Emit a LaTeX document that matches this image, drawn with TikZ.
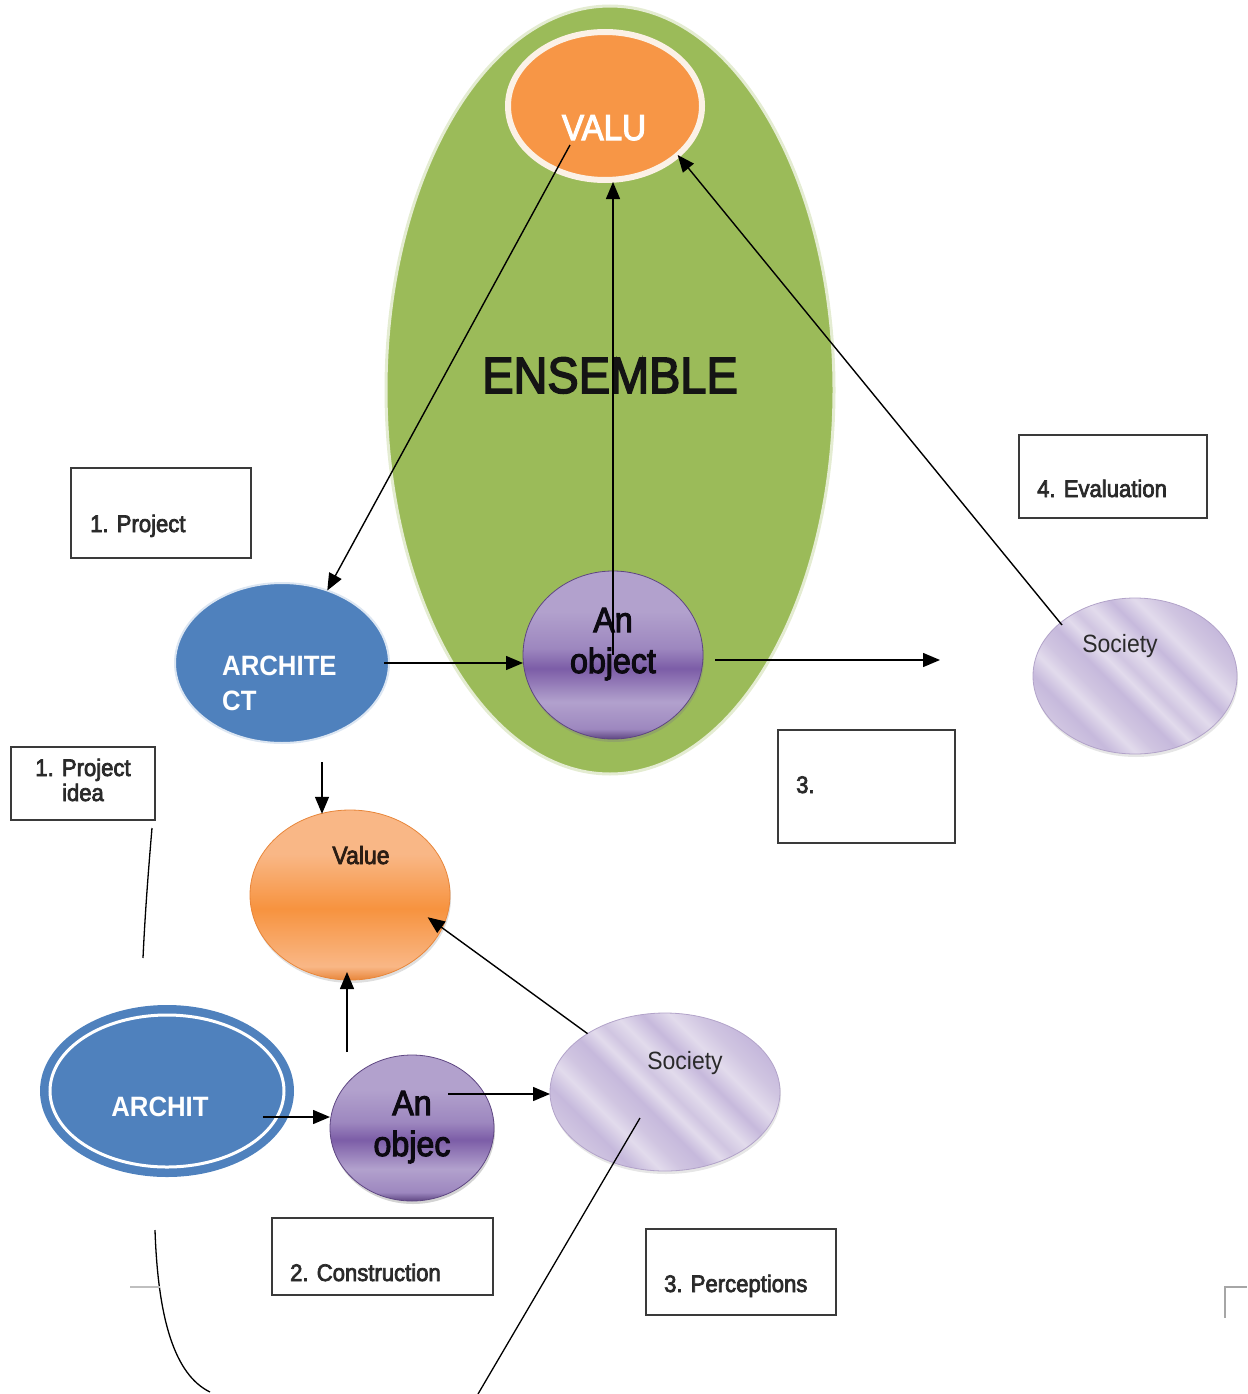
\documentclass[tikz,border=0pt]{standalone}
\usepackage{fontspec}
\setmainfont{Liberation Sans}[FakeStretch=0.92]
\newfontfamily\mediumfont{Liberation Sans}[FakeStretch=0.92, FakeBold=3]
\usetikzlibrary{arrows.meta,shapes.geometric,shadows,calc}

\definecolor{ensgreen}{HTML}{9BBB59}
\definecolor{ensedge}{HTML}{E4ECD2}
\definecolor{valorange}{HTML}{F79646}
\definecolor{valedge}{HTML}{FBF1E6}
\definecolor{archblue}{HTML}{4F81BD}
\definecolor{archedge}{HTML}{DCE6F2}
\definecolor{objlight}{HTML}{B2A1CD}
\definecolor{objmid}{HTML}{9D87BF}
\definecolor{objdark}{HTML}{7C5DA7}
\definecolor{objedge}{HTML}{5E4682}
\definecolor{soclight}{HTML}{E2DBEC}
\definecolor{socmid}{HTML}{D0C5E1}
\definecolor{socdark}{HTML}{C6B9DC}
\definecolor{socedge}{HTML}{B2A3C9}
\definecolor{orlight}{HTML}{F9B786}
\definecolor{ormid}{HTML}{F7933F}
\definecolor{oredge}{HTML}{E8863A}
\definecolor{boxline}{HTML}{3A3A3A}
\definecolor{inktext}{HTML}{2A2A2A}
\definecolor{valtext}{HTML}{2B1D14}

% banded purple fill of the object discs
\pgfdeclareverticalshading{objshade}{100bp}{color(0bp)=(objedge); color(25bp)=(objedge); color(28bp)=(objmid); color(36bp)=(objlight); color(46bp)=(objdark); color(52bp)=(objmid); color(63bp)=(objlight); color(75bp)=(objlight); color(100bp)=(objlight)}
% orange fill of the value disc
\pgfdeclareverticalshading{orshade}{100bp}{color(0bp)=(oredge); color(25bp)=(oredge); color(29bp)=(orlight); color(46bp)=(ormid); color(62bp)=(orlight); color(75bp)=(orlight); color(100bp)=(orlight)}
% soft diagonal lavender streaks of the society discs
\pgfdeclarehorizontalshading{socshade}{100bp}{color(0bp)=(socmid); color(25bp)=(socmid); color(30bp)=(socdark); color(35bp)=(soclight); color(39bp)=(socmid); color(44bp)=(socdark); color(48bp)=(soclight); color(51bp)=(socmid); color(55bp)=(soclight); color(60bp)=(socdark); color(65bp)=(soclight); color(70bp)=(socmid); color(75bp)=(socdark); color(100bp)=(socdark)}

\newcommand{\pxfont}[1]{\fontsize{#1}{#1}\selectfont}

\tikzset{
  ell/.style={ellipse, inner sep=0pt, outer sep=0pt},
  objdisc/.style={ell, shade, shading=objshade, draw=objedge, line width=0.8pt,
    drop shadow={shadow xshift=1pt, shadow yshift=-3pt, opacity=0.35}},
  socdisc/.style={ell, shade, shading=socshade, shading angle=45, draw=socedge, line width=0.8pt,
    drop shadow={shadow xshift=1pt, shadow yshift=-3pt, opacity=0.2}},
  arr/.style={-{Triangle[length=17pt,width=14pt]}, line width=1.4pt, black},
  plainline/.style={line width=1.3pt, black},
  stepbox/.style={rectangle, draw=boxline, line width=1.6pt, inner sep=0pt, outer sep=0pt},
  boxtxt/.style={font=\mediumfont\pxfont{24}, text=inktext, inner sep=0pt, anchor=base west},
  whitetxt/.style={font=\bfseries\pxfont{28}, text=white, inner sep=0pt},
  objtxt/.style={font=\mediumfont\pxfont{35}, text=black!90!objdark, inner sep=0pt, anchor=base},
  soctxt/.style={font=\pxfont{25}, text=inktext, inner sep=0pt, anchor=base},
}

\begin{document}
\begin{tikzpicture}[x=1pt, y=-1pt]
\useasboundingbox (0,0) rectangle (1247,1394);

% the ensemble
\node[ell, fill=ensgreen, draw=ensedge, line width=3pt, minimum width=448pt, minimum height=768pt] (ens) at (610,390) {};
\node[ell, fill=valorange, draw=valedge, line width=6pt, minimum width=194pt, minimum height=148pt] (valu) at (605,106) {};
\node[font=\mediumfont\pxfont{36}, text=white, inner sep=0pt, anchor=base] (valutxt) at (604,140) {VALU};
\node[font=\mediumfont\pxfont{51}, text=black!92, inner sep=0pt, anchor=base] (enstxt) at (610,393) {ENSEMBLE};

% upper chain
\node[ell, fill=archblue, draw=archedge, line width=2pt, minimum width=214pt, minimum height=160pt] (archt) at (282,663) {};
\node[whitetxt, anchor=base west] (archtxt1) at (222,675) {ARCHITE};
\node[whitetxt, anchor=base west] (archtxt2) at (222,710) {CT};
\node[objdisc, minimum width=180pt, minimum height=168pt] (obj) at (613,655) {};
\node[objtxt] (objtxt1) at (613,632) {An};
\node[objtxt] (objtxt2) at (613,673) {object};
\node[socdisc, minimum width=204pt, minimum height=156pt] (soc) at (1135,676) {};
\node[soctxt] (soctxt) at (1120,652) {Society};

% lower chain
\node[ell, shade, shading=orshade, draw=oredge, line width=0.8pt, minimum width=200pt, minimum height=170pt,
  drop shadow={shadow xshift=1pt, shadow yshift=-3pt, opacity=0.25}] (value) at (350,895) {};
\node[font=\mediumfont\pxfont{25}, text=valtext, inner sep=0pt, anchor=base] (valuetxt) at (361,864) {Value};
\node[ell, fill=archblue, minimum width=254pt, minimum height=172pt] (archit) at (167,1091) {};
\node[ell, draw=white, line width=3pt, minimum width=234pt, minimum height=152pt] (architring) at (167,1091) {};
\node[whitetxt, anchor=base] (archittxt) at (160,1116) {ARCHIT};
\node[objdisc, minimum width=164pt, minimum height=146pt] (objec) at (412,1128) {};
\node[objtxt] (objectxt1) at (412,1115) {An};
\node[objtxt] (objectxt2) at (412,1156) {objec};
\node[socdisc, minimum width=230pt, minimum height=158pt] (soc2) at (665,1092) {};
\node[soctxt] (soc2txt) at (685,1069) {Society};

% stage boxes
\node[stepbox, minimum width=180pt, minimum height=90pt] (bproj) at (161,513) {};
\node[boxtxt] (bprojtxt) at (90,532) {1. Project};
\node[stepbox, minimum width=144pt, minimum height=73pt] (bidea) at (83,783.5) {};
\node[boxtxt, anchor=base] (bideatxt1) at (83,776) {1. Project};
\node[boxtxt, anchor=base] (bideatxt2) at (83,801) {idea};
\node[stepbox, minimum width=188pt, minimum height=83pt] (beval) at (1113,476.5) {};
\node[boxtxt] (bevaltxt) at (1037,497) {4. Evaluation};
\node[stepbox, minimum width=177pt, minimum height=113pt] (bthree) at (866.5,786.5) {};
\node[boxtxt] (bthreetxt) at (796,793) {3.};
\node[stepbox, minimum width=221pt, minimum height=77pt] (bcons) at (382.5,1256.5) {};
\node[boxtxt] (bconstxt) at (290,1281) {2. Construction};
\node[stepbox, minimum width=190pt, minimum height=86pt] (bperc) at (741,1272) {};
\node[boxtxt] (bperctxt) at (664,1292) {3. Perceptions};

% free ends of the connectors
\coordinate (valuin) at (570,145);
\coordinate (socin) at (1062,625);
\coordinate (objout) at (715,660);
\coordinate (objtip) at (940,660);
\coordinate (archtout) at (322,762);
\coordinate (objecup) at (347,1052);
\coordinate (architout) at (263,1117);
\coordinate (objecout) at (448,1094);
\coordinate (soc2in) at (640,1118);
\coordinate (soc2end) at (478,1394);
\coordinate (ideaend) at (143,958);
\coordinate (curvetop) at (155,1230);
\coordinate (curveend) at (210,1392);

% upper connectors
\draw[arr] (valuin) -- (archt.58);
\draw[arr] (obj.center) -- ($(obj.center |- valu.south)+(0,2)$);
\draw[arr] (socin) -- (valu.-34);
\draw[arr] ([xshift=-5pt]archt.east) -- (archt.east -| obj.west);
\draw[arr] (objout) -- (objtip);

% lower connectors
\draw[arr] (archtout) -- (archtout |- value.110);
\draw[arr] (objecup) -- ($(objecup |- value.south)+(0,-8)$);
\draw[arr] (soc2.143) -- ($(value.center)!0.82!(value.-16)$);
\draw[arr] (architout) -- (architout -| objec.west);
\draw[arr] (objecout) -- (objecout -| soc2.west);
\draw[plainline] (soc2in) -- (soc2end);

% loose strokes
\draw[plainline] ([xshift=-3pt,yshift=-8pt]bidea.south east) .. controls (148,875) and (145,915) .. (ideaend);
\draw[plainline] (curvetop) .. controls (158,1320) and (175,1375) .. (curveend);
\draw[black!25, line width=1.2pt] (130,1287) -- (160,1287);
\draw[black!35, line width=2pt] (1247,1287) -- (1225,1287) -- (1225,1318);
\end{tikzpicture}
\end{document}
